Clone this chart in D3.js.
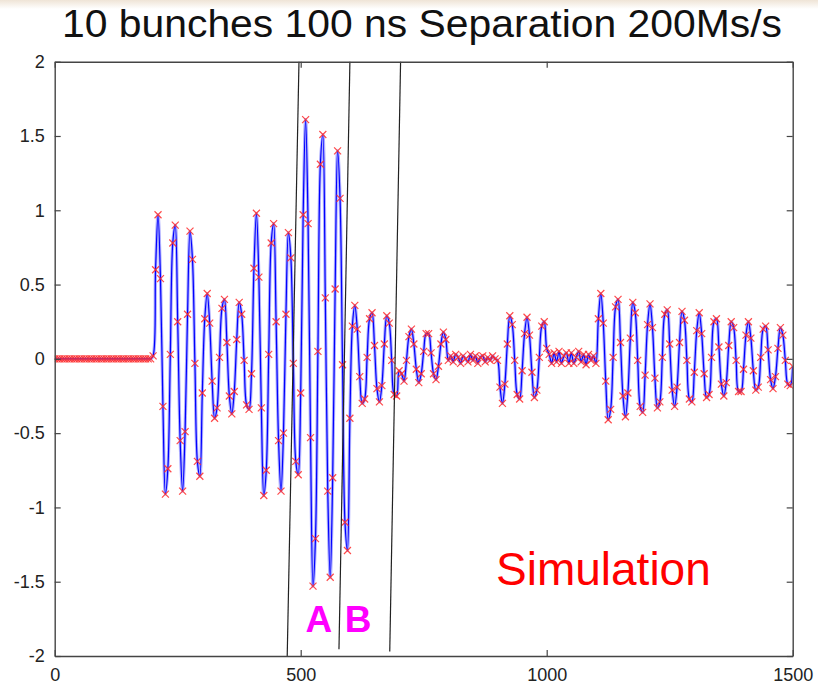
<!DOCTYPE html>
<html>
<head>
<meta charset="utf-8">
<script src="https://cdn.jsdelivr.net/npm/d3@7"></script>
<style>
  body { margin: 0; background: #fff; }
  svg { display: block; font-family: "Liberation Sans", Arial, sans-serif; }
</style>
</head>
<body>
<div id="chart-area"></div>
<script>
// sampled signal, one value every 5 ns (200 Ms/s)
var sampleStep = 5;

var preTrigger = [
  0,0,0,0,0,0,0,0,0,0, 0,0,0,0,0,0,0,0,0,0,
  0,0,0,0,0,0,0,0,0,0, 0,0,0,0,0,0,0,0,0,0,
  0.02
];
var train1 = [
  0.60,0.97,0.54,-0.32,-0.91,-0.74,0.03,0.78,0.90,0.25,-0.55,-0.89,-0.49,0.30,0.86,0.67,-0.03,-0.69,-0.79,-0.23,
  0.27,0.44,0.24,-0.15,-0.40,-0.33,0.01,0.34,0.40,0.11,-0.25,-0.37,-0.22,0.13,0.38,0.30,-0.01,-0.31,-0.34,-0.10,
  0.61,0.98,0.55,-0.33,-0.92,-0.75,0.03,0.78,0.91,0.25,-0.55,-0.89,-0.50,0.30,0.85,0.68,-0.03,-0.69,-0.78,-0.23,
  0.97,1.61,0.91,-0.53,-1.53,-1.21,0.05,1.31,1.51,0.41,-0.89,-1.47,-0.80,0.47,1.40,1.08,-0.04,-1.10,-1.29,-0.40,
  0.22,0.36,0.20,-0.12,-0.30,-0.27,0.01,0.27,0.31,0.09,-0.20,-0.29,-0.18,0.10,0.29,0.24,-0.01,-0.24,-0.25,-0.08,
  -0.10,-0.15,-0.01,0.15,0.20,0.10,-0.07,-0.16,-0.10,0.05,0.17,0.17,0.04,-0.10,-0.14,-0.05,0.10,0.18,0.13,-0.01
];
var gap1 = [0.02,-0.02,0.03,0.01,-0.03,0.02,0.00,-0.02,0.03,-0.01,0.02,-0.03,0.01,0.02,-0.02,0.01,-0.01,0.02,0.00,-0.01];
var train2 = [-0.19,-0.30,-0.17,0.10,0.29,0.23,-0.01,-0.24,-0.27,-0.08,0.17,0.28,0.16,-0.09,-0.26,-0.21,0.01,0.22,0.25,0.07];
var gap2 = [0.03,-0.03,0.04,-0.02,0.05,-0.03,0.02,0.04,-0.03,0.04,-0.03,0.01,0.05,-0.02,0.03,-0.04,0.03,-0.01,0.02,-0.03];
var train3 = [
  0.27,0.44,0.24,-0.15,-0.41,-0.34,0.01,0.35,0.40,0.11,-0.25,-0.39,-0.23,0.14,0.38,0.31,-0.01,-0.32,-0.36,-0.11,
  0.23,0.37,0.21,-0.13,-0.33,-0.29,0.01,0.30,0.33,0.10,-0.21,-0.32,-0.19,0.11,0.32,0.26,-0.01,-0.27,-0.29,-0.09,
  0.19,0.31,0.17,-0.10,-0.26,-0.24,0.01,0.25,0.27,0.08,-0.17,-0.25,-0.16,0.09,0.25,0.21,-0.01,-0.22,-0.22,-0.07,
  0.16,0.25,0.14,-0.08,-0.21,-0.19,0.01,0.20,0.22,0.06,-0.14,-0.20,-0.12,0.07,0.21,0.16,-0.01,-0.17,-0.18,-0.05
];

var xTicks = [0, 500, 1000, 1500];
var yTicks = [-2, -1.5, -1, -0.5, 0, 0.5, 1, 1.5, 2];

// slanted guide lines (data units)
var guideLines = [
  {x1: 496.5, y1: 2, x2: 472.6, y2: -2},
  {x1: 600, y1: 2, x2: 577.8, y2: -1.955},
  {x1: 703, y1: 2, x2: 681, y2: -1.97}
];
var regionLabels = [{text: "A", x: 537}, {text: "B", x: 616.5}];

var signal = preTrigger.concat(train1, gap1, train2, gap2, train3);
var data = signal.map(function(v, i) { return {t: i * sampleStep, v: v}; });

var svg = d3.select("#chart-area").append("svg")
  .attr("width", 818)
  .attr("height", 687);

var grad = svg.append("defs").append("linearGradient")
  .attr("id", "topband").attr("x1", 0).attr("y1", 0).attr("x2", 0).attr("y2", 1);
grad.append("stop").attr("offset", "0%").attr("stop-color", "#efe4d6");
grad.append("stop").attr("offset", "100%").attr("stop-color", "#ffffff");
svg.append("rect").attr("width", 818).attr("height", 687).attr("fill", "#fff");
svg.append("rect").attr("width", 818).attr("height", 9).attr("fill", "url(#topband)");

var x = d3.scaleLinear().domain([0, 1500]).range([54.7, 792.7]);
var y = d3.scaleLinear().domain([-2, 2]).range([656, 61.7]);

svg.append("defs").append("clipPath").attr("id", "plotclip")
  .append("rect").attr("x", 54.7).attr("y", 61.7).attr("width", 738).attr("height", 594.3);

var plot = svg.append("g").attr("clip-path", "url(#plotclip)");

var line = d3.line()
  .x(function(d) { return x(d.t); })
  .y(function(d) { return y(d.v); })
  .curve(d3.curveCatmullRom.alpha(0.5));

plot.append("path").datum(data)
  .attr("fill", "none")
  .attr("stroke", "#8c8cff")
  .attr("stroke-width", 3.2)
  .attr("opacity", 0.7)
  .attr("d", line);
plot.append("path").datum(data)
  .attr("fill", "none")
  .attr("stroke", "#0000ff")
  .attr("stroke-width", 1.2)
  .attr("d", line);

plot.selectAll(".mk").data(data).enter()
  .append("path")
  .attr("class", "mk")
  .attr("transform", function(d) { return "translate(" + x(d.t) + "," + y(d.v) + ")"; })
  .attr("d", "M-3.5,-3.5L3.5,3.5M-3.5,3.5L3.5,-3.5")
  .attr("fill", "none")
  .attr("stroke", "#ff2a2a")
  .attr("stroke-width", 1.2)
  .attr("opacity", 0.85);

// guide lines
svg.selectAll(".guide").data(guideLines).enter()
  .append("line")
  .attr("class", "guide")
  .attr("x1", function(d) { return x(d.x1); })
  .attr("y1", function(d) { return y(d.y1); })
  .attr("x2", function(d) { return x(d.x2); })
  .attr("y2", function(d) { return y(d.y2); })
  .attr("stroke", "#222")
  .attr("stroke-width", 1.2);

// axes (box with inward ticks)
function styleAxis(g) {
  g.select(".domain").attr("stroke", "#444").attr("stroke-width", 1.4);
  g.selectAll(".tick line").attr("stroke", "#444").attr("stroke-width", 1.2);
  g.selectAll("text").attr("fill", "#222").attr("font-size", "18px")
    .attr("font-family", "'Liberation Sans', Arial, sans-serif");
}
var fmt = function(d) { return String(d); };

svg.append("g")
  .attr("transform", "translate(0," + y(-2) + ")")
  .call(d3.axisBottom(x).tickValues(xTicks).tickFormat(fmt).tickSizeInner(-6).tickSizeOuter(0).tickPadding(12))
  .call(styleAxis);
svg.append("g")
  .attr("transform", "translate(0," + y(2) + ")")
  .call(d3.axisTop(x).tickValues(xTicks).tickFormat("").tickSizeInner(-6).tickSizeOuter(0))
  .call(styleAxis);
svg.append("g")
  .attr("transform", "translate(" + x(0) + ",0)")
  .call(d3.axisLeft(y).tickValues(yTicks).tickFormat(fmt).tickSizeInner(-6).tickSizeOuter(0).tickPadding(10))
  .call(styleAxis);
svg.append("g")
  .attr("transform", "translate(" + x(1500) + ",0)")
  .call(d3.axisRight(y).tickValues(yTicks).tickFormat("").tickSizeInner(-6).tickSizeOuter(0))
  .call(styleAxis);

// title
svg.append("text")
  .attr("x", 422)
  .attr("y", 37)
  .attr("text-anchor", "middle")
  .attr("font-size", "38px")
  .attr("fill", "#111")
  .attr("textLength", 720)
  .attr("lengthAdjust", "spacingAndGlyphs")
  .text("10 bunches 100 ns Separation 200Ms/s");

// region labels
svg.selectAll(".region").data(regionLabels).enter()
  .append("text")
  .attr("class", "region")
  .attr("x", function(d) { return x(d.x); })
  .attr("y", y(-1.836))
  .attr("text-anchor", "middle")
  .attr("font-size", "37px")
  .attr("font-weight", "bold")
  .attr("fill", "#ff00ff")
  .text(function(d) { return d.text; });

svg.append("text")
  .attr("x", x(897))
  .attr("y", y(-1.522))
  .attr("font-size", "46px")
  .attr("fill", "#ff0000")
  .text("Simulation");
</script>
</body>
</html>
